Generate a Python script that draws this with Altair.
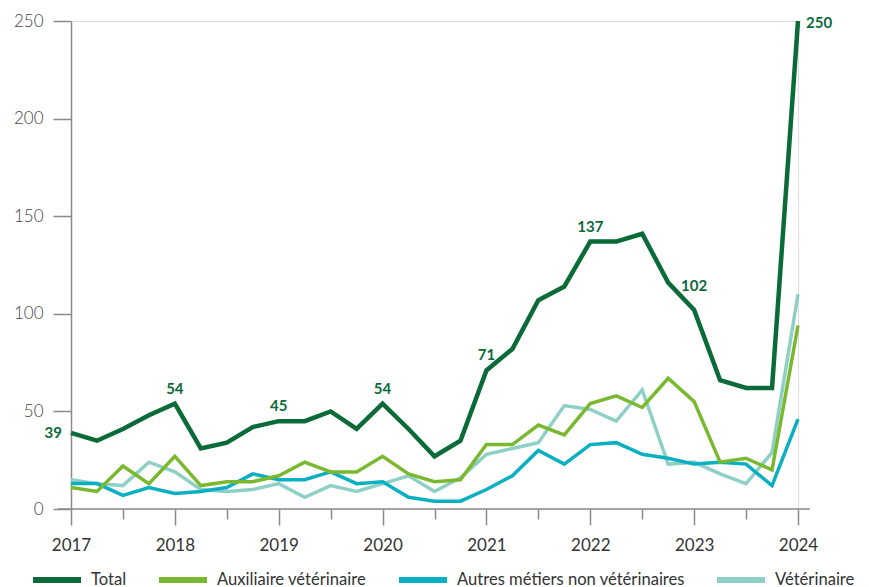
import altair as alt
import pandas as pd

# ---- data -------------------------------------------------------------
years = [2017, 2018, 2019, 2020, 2021, 2022, 2023]
periods = [f"{y}-T{q}" for y in years for q in range(1, 5)] + ["2024-T1"]

series_order = ["Total", "Auxiliaire vétérinaire",
                "Autres métiers non vétérinaires", "Vétérinaire"]
colors = ["#0a6b38", "#7ab92f", "#0ab0c1", "#8fd0c6"]

total = [39, 35, 41, 48, 54, 31, 34, 42, 45, 45, 50, 41, 54, 41, 27, 35,
         71, 82, 107, 114, 137, 137, 141, 116, 102, 66, 62, 62, 250]
auxiliaire = [11, 9, 22, 13, 27, 12, 14, 14, 17, 24, 19, 19, 27, 18, 14, 15,
              33, 33, 43, 38, 54, 58, 52, 67, 55, 24, 26, 20, 94]
autres = [13, 13, 7, 11, 8, 9, 11, 18, 15, 15, 19, 13, 14, 6, 4, 4,
          10, 17, 30, 23, 33, 34, 28, 26, 23, 24, 23, 12, 46]
veterinaire = [15, 13, 12, 24, 19, 10, 9, 10, 13, 6, 12, 9, 13, 17, 9, 16,
               28, 31, 34, 53, 51, 45, 61, 23, 24, 18, 13, 29, 110]

label_above = ["2018-T1", "2019-T1", "2020-T1", "2021-T1", "2022-T1"]
label_high = ["2023-T1"]
label_left = ["2017-T1"]
label_right = ["2024-T1"]


def pos(p):
    y, q = p.split("-T")
    return int(y) + (int(q) - 1) / 4


values = {"Total": total, "Auxiliaire vétérinaire": auxiliaire,
          "Autres métiers non vétérinaires": autres, "Vétérinaire": veterinaire}
rows = []
for s in ["Vétérinaire", "Autres métiers non vétérinaires",
          "Auxiliaire vétérinaire", "Total"]:
    for p, v in zip(periods, values[s]):
        rows.append({"periode": p, "x": pos(p), "serie": s, "valeur": v})
df = pd.DataFrame(rows)

lab = df[df.serie == "Total"].copy()
lab["place"] = lab.periode.map(
    lambda p: "above" if p in label_above else "high" if p in label_high
    else "left" if p in label_left else "right" if p in label_right else "")
lab = lab[lab.place != ""]

tick_vals = [pos(p) for p in periods]
FONT = "Lato"

xscale = alt.Scale(domain=[2017, 2024], nice=False, zero=False)
yscale = alt.Scale(domain=[0, 250], nice=False)

x_enc = alt.X("x:Q", scale=xscale, axis=alt.Axis(
    values=tick_vals, title=None, domain=False, grid=False,
    tickColor="#8a8a8a", tickWidth=1.5,
    tickSize={"condition": {"test": "datum.value % 1 === 0", "value": 16}, "value": 10},
    labelExpr="datum.value % 1 === 0 ? toString(datum.value) : ''",
    labelOverlap=False, labelFlush=False, labelFont=FONT, labelFontSize=17,
    labelColor="#333333", labelPadding=12))
y_enc = alt.Y("valeur:Q", scale=yscale, axis=alt.Axis(
    values=[0, 50, 100, 150, 200, 250], title=None, grid=False,
    domainColor="#8a8a8a", domainWidth=1.5, tickColor="#8a8a8a",
    tickWidth=1.5, tickSize=18, labelPadding=10, labelFont=FONT,
    labelFontSize=17, labelFontWeight=300, labelColor="#444444"))
color_enc = alt.Color("serie:N", scale=alt.Scale(domain=series_order, range=colors),
                      legend=alt.Legend(
                          title=None, orient="none", legendX=-41, legendY=532,
                          direction="horizontal", columns=4, symbolType="stroke",
                          symbolSize=2304, symbolStrokeWidth=6, labelFont=FONT,
                          labelFontSize=16.6, labelColor="#333333", columnPadding=20,
                          labelOffset=7, labelLimit=400, padding=0))

layers = []
for s in ["Vétérinaire", "Autres métiers non vétérinaires",
          "Auxiliaire vétérinaire", "Total"]:
    layers.append(
        alt.Chart(df).transform_filter(alt.datum.serie == s)
        .mark_line(strokeWidth=4.5 if s == "Total" else 3.5, strokeJoin="miter")
        .encode(x=x_enc, y=y_enc, color=color_enc)
    )

axis_line = alt.Chart(pd.DataFrame({"a": [0]})).mark_rule(
    color="#8a8a8a", strokeWidth=1.5).encode(
    x=alt.value(-13), x2=alt.value(739), y=alt.value(488))


def text_layer(place, **kw):
    return alt.Chart(lab).transform_filter(alt.datum.place == place).mark_text(
        font=FONT, fontSize=15, fontWeight="bold", color="#0a6b38", **kw
    ).encode(x=alt.X("x:Q", scale=xscale), y=alt.Y("valeur:Q", scale=yscale),
             text="valeur:Q")


texts = [
    text_layer("above", dy=-15, baseline="middle", align="center"),
    text_layer("high", dy=-24, baseline="middle", align="center"),
    text_layer("left", dx=-9, baseline="middle", align="right"),
    text_layer("right", dx=8, dy=2, baseline="middle", align="left"),
]

chart = alt.layer(axis_line, *layers, *texts).properties(
    width=727, height=488, autosize="none",
    padding={"left": 63, "top": 13, "right": 63, "bottom": 78},
).configure_view(stroke=None).configure(font=FONT)

chart.save("out.html", embed_options={"renderer": "svg", "actions": False})
